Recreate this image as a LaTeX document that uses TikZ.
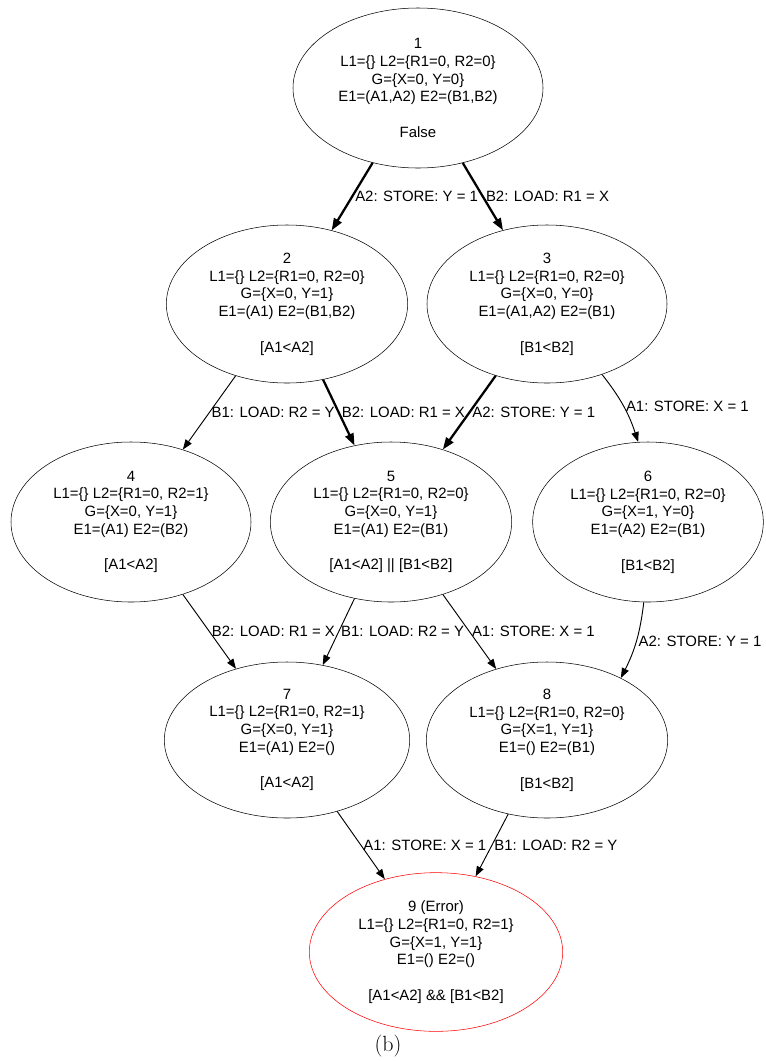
\documentclass[tikz,border=0pt]{standalone}
\usepackage{fontspec}
\newfontfamily\arialfont{Liberation Sans}
\usetikzlibrary{shapes.geometric,arrows.meta}

\begin{document}
\begin{tikzpicture}[x=0.75pt, y=-0.75pt,
state node/.style={ellipse,draw,minimum width=181pt,minimum height=118.5pt,inner sep=0pt,align=center,font=\arialfont\fontsize{11.2pt}{13.3pt}\selectfont},
edge label/.style={anchor=west,inner sep=1.5pt,font=\arialfont\fontsize{11.2pt}{13.3pt}\selectfont},
bold edge/.style={line width=1.7pt,-{Triangle[length=9pt,width=6.5pt]}}]
\useasboundingbox (0,0) rectangle (765,1061);
\begin{scope}
\node[state node,minimum width=187.5pt,minimum height=120pt] (s1) at (418,88) {1\\L1=\{\} L2=\{R1=0, R2=0\}\\G=\{X=0, Y=0\}\\E1=(A1,A2) E2=(B1,B2)\\[13.3pt]False};%1
\node[state node] (s2) at (287,304) {2\\L1=\{\} L2=\{R1=0, R2=0\}\\G=\{X=0, Y=1\}\\E1=(A1) E2=(B1,B2)\\[13.3pt][A1<A2]};%2
\node[state node,minimum width=180pt] (s3) at (547,304) {3\\L1=\{\} L2=\{R1=0, R2=0\}\\G=\{X=0, Y=0\}\\E1=(A1,A2) E2=(B1)\\[13.3pt][B1<B2]};%3
\node[state node,minimum width=180pt,minimum height=120pt] (s4) at (131,522) {4\\L1=\{\} L2=\{R1=0, R2=1\}\\G=\{X=0, Y=1\}\\E1=(A1) E2=(B2)\\[13.3pt][A1<A2]};%4
\node[state node,minimum height=120pt] (s5) at (391,522) {5\\L1=\{\} L2=\{R1=0, R2=0\}\\G=\{X=0, Y=1\}\\E1=(A1) E2=(B1)\\[13.3pt][A1<A2] || [B1<B2]};%5
\node[state node,minimum width=173pt,minimum height=120pt] (s6) at (648,522) {6\\L1=\{\} L2=\{R1=0, R2=0\}\\G=\{X=1, Y=0\}\\E1=(A2) E2=(B1)\\[13.3pt][B1<B2]};%6
\node[state node,minimum width=184pt,minimum height=117pt] (s7) at (287,740) {7\\L1=\{\} L2=\{R1=0, R2=1\}\\G=\{X=0, Y=1\}\\E1=(A1) E2=()\\[13.3pt][A1<A2]};%7
\node[state node,minimum height=117pt] (s8) at (547,740) {8\\L1=\{\} L2=\{R1=0, R2=0\}\\G=\{X=1, Y=1\}\\E1=() E2=(B1)\\[13.3pt][B1<B2]};%8
\node[state node,draw=red,minimum width=190pt,minimum height=119pt] (s9) at (436,952) {9 (Error)\\L1=\{\} L2=\{R1=0, R2=1\}\\G=\{X=1, Y=1\}\\E1=() E2=()\\[13.3pt][A1<A2] \&\& [B1<B2]};%9
\end{scope}
\begin{scope}[every edge/.style={draw=black,line width=0.7pt,-{Triangle[length=7.5pt,width=5.5pt]}}]
\draw (s1) edge[bold edge] node[edge label]{A2: STORE: Y = 1} (s2);
\draw (s1) edge[bold edge] node[edge label]{B2: LOAD: R1 = X} (s3);
\draw (s2) edge node[edge label]{B1: LOAD: R2 = Y} (s4);
\draw (s2) edge[bold edge] node[edge label]{B2: LOAD: R1 = X} (s5);
\draw (s3) edge[bold edge] node[edge label]{A2: STORE: Y = 1} (s5);
\draw (s3.-52) edge[bend left=10] node[edge label]{A1: STORE: X = 1} (s6.97);
\draw (s4) edge node[edge label]{B2: LOAD: R1 = X} (s7);
\draw (s5) edge node[edge label]{B1: LOAD: R2 = Y} (s7);
\draw (s5) edge node[edge label]{A1: STORE: X = 1} (s8);
\draw (s6.-93) edge[bend left=10] node[edge label]{A2: STORE: Y = 1} (s8.40);
\draw (s7) edge node[edge label]{A1: STORE: X = 1} (s9);
\draw (s8) edge node[edge label]{B1: LOAD: R2 = Y} (s9);
\end{scope}
\node (caption) at (388,1046) {\fontsize{16.5pt}{18pt}\selectfont (b)};
\end{tikzpicture}
\end{document}
